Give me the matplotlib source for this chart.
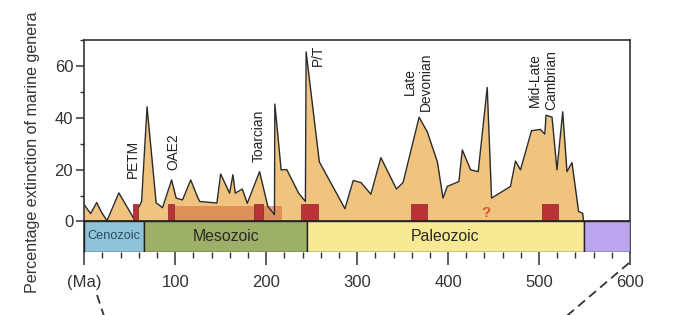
import matplotlib
matplotlib.use('Agg')
import matplotlib.pyplot as plt
from matplotlib.patches import Rectangle
from matplotlib.lines import Line2D

plt.rcParams['font.family'] = ['Liberation Sans', 'DejaVu Sans']

# extinction curve (age Ma, % extinction of marine genera)
age = [0, 7, 13.6, 19, 25, 38, 54, 63, 69, 79, 86, 96, 101, 108, 117, 125,
       127, 145.8, 149.9, 159.8, 163.4, 166, 173.7, 179.2, 192.7, 201.8, 209.1,
       209.5, 216.4, 222.6, 235.7, 243.1, 243.9, 258.4, 286.6, 295.7, 304.2,
       315.1, 326.1, 343.2, 350.5, 368.1, 377.2, 388.2, 394.4, 399.1, 411.9,
       415.6, 424.8, 433.1, 443, 447.8, 468.6, 474.1, 479.6, 491.7, 501.5,
       506.3, 507.7, 514.3, 519.7, 526, 530.7, 536.2, 543.5, 547.9, 549]
pct = [6.4, 3, 7.3, 3.5, 0.3, 11, 1.4, 7.7, 44.2, 7.2, 5.3, 16, 9, 8.3, 16, 9,
       7.7, 7.1, 18.3, 10.9, 18, 10.9, 12.5, 7, 19.2, 5.8, 2.6,
       45.3, 19.9, 20, 10.9, 7.7, 65.4, 23, 4.9, 15.8, 15,
       10.5, 24.6, 12.5, 15, 40.2, 34.5, 23, 9, 13.5, 15.4,
       27.6, 19.9, 19.2, 51.7, 9, 13.5, 23.3, 19.9, 35, 35.5,
       33.7, 41, 40.2, 19.9, 42.3, 19.2, 22.7, 3.8, 3.2, 0]

# eras
era_names = ['Cenozoic', 'Mesozoic', 'Paleozoic', '']
era_start = [0, 66, 245, 549]
era_end = [66, 245, 549, 600]
era_colors = ['#8fc4d8', '#9eaf68', '#f8e994', '#bba5ee']

# extinction events (red boxes)
ev_start = [54, 92, 187, 238, 359, 503]
ev_end = [59, 99, 196, 257, 377, 521]
ev_height = 6.7

labels = ['PETM', 'OAE2', 'Toarcian', 'P/T', 'Late\nDevonian', 'Mid-Late\nCambrian']
lab_x = [53, 97.6, 192, 256.6, 367, 504]
lab_y = [16.8, 20, 22.8, 59.8, 54, 54.5]
lab_va = ['bottom', 'bottom', 'bottom', 'bottom', 'center', 'center']

W, H = 675, 315
fig = plt.figure(figsize=(6.75, 3.15), dpi=100)
ax = fig.add_axes([84.3 / W, 1 - 251.5 / H, (630 - 84.3) / W, (251.5 - 40) / H])
ax.set_xlim(0, 600)
ax.set_ylim(-11.6, 70)

ax.fill_between(age, pct, 0, color='#f0c47e', lw=0, zorder=1)
ax.add_patch(Rectangle((94, 0), 217 - 94, 5.8, color='#d9824f', alpha=0.75, lw=0, zorder=2))
ax.plot(age, pct, color='#2b2b2b', lw=1.0, zorder=3)
for s, e in zip(ev_start, ev_end):
    ax.add_patch(Rectangle((s, 0), e - s, ev_height, facecolor='#b93236',
                           edgecolor='#8e2326', lw=0.5, zorder=4))

for n, s, e, c in zip(era_names, era_start, era_end, era_colors):
    ax.add_patch(Rectangle((s, -11.6), e - s, 11.6, facecolor=c,
                           edgecolor='#222222', lw=1.0, zorder=5))
    if n:
        fs = 9.2 if n == 'Cenozoic' else 11.4
        col = '#2d4b5e' if n == 'Cenozoic' else '#2a2a2a'
        ax.text((s + e) / 2, -5.8, n, ha='center', va='center', fontsize=fs,
                color=col, zorder=6)

for t, x, y, va in zip(labels, lab_x, lab_y, lab_va):
    ax.text(x, y, t, rotation=90, ha='center', va=va, fontsize=9.9,
            multialignment='center', color='#222222', zorder=6)

ax.text(441.5, 3.4, '?', ha='center', va='center', fontsize=11,
        fontweight='bold', color='#d4582c', zorder=6)

ax.axhline(0, color='#222222', lw=1.2, zorder=5)

ax.spines['bottom'].set_visible(False)
for sp in ['left', 'top', 'right']:
    ax.spines[sp].set_color('#222222')
    ax.spines[sp].set_linewidth(1.1)

ax.set_yticks([0, 20, 40, 60])
ax.set_yticks([10, 30, 50, 70], minor=True)
ax.set_xticks([0, 100, 200, 300, 400, 500, 600])
ax.set_xticklabels(['(Ma)', '100', '200', '300', '400', '500', '600'])
ax.set_xticks(range(20, 600, 20), minor=True)
ax.tick_params(axis='both', which='major', direction='out', labelsize=12,
               colors='#333333', width=1.1)
ax.tick_params(axis='x', which='major', length=9, pad=8)
ax.tick_params(axis='x', which='minor', length=4.5, width=1.0, colors='#333333')
ax.tick_params(axis='y', which='major', length=6, pad=2)
ax.tick_params(axis='y', which='minor', length=3, width=1.0, colors='#333333')
for lab in ax.get_xticklabels() + ax.get_yticklabels():
    lab.set_color('#333333')

fig.text(33 / W, 1 - 152 / H, 'Percentage extinction of marine genera',
         rotation=90, ha='center', va='center', fontsize=11.6, color='#333333')

# dashed connector lines to the panel below
fig.add_artist(Line2D([97 / W, 104 / W], [1 - 295 / H, 1 - 316 / H],
                      color='#333333', lw=1.3, ls=(0, (5, 3))))
fig.add_artist(Line2D([629 / W, 562 / W], [1 - 263 / H, 1 - 320 / H],
                      color='#333333', lw=1.3, ls=(0, (5, 3))))

fig.savefig('out.png', dpi=100)
